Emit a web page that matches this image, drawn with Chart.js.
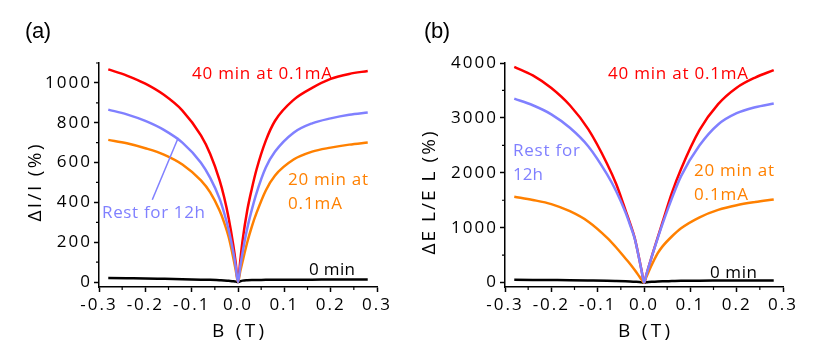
<!DOCTYPE html>
<html>
<head>
<meta charset="utf-8">
<script src="https://cdn.jsdelivr.net/npm/chart.js@4/dist/chart.umd.min.js"></script>
<style>
  body { margin: 0; background: #fff; width: 831px; height: 344px; position: relative; overflow: hidden; }
  .panel { position: absolute; top: 0; height: 344px; }
</style>
</head>
<body>
<div class="panel" style="left:0;width:415px"><canvas id="chartA" width="415" height="344"></canvas></div>
<div class="panel" style="left:415px;width:416px"><canvas id="chartB" width="416" height="344"></canvas></div>
<script>
// magnetic field B (T), shared by every curve
const bField = [-0.28, -0.24, -0.20, -0.16, -0.12, -0.08, -0.06, -0.04, -0.03, -0.02, -0.01, -0.005, 0,
                0.005, 0.01, 0.02, 0.03, 0.04, 0.06, 0.08, 0.12, 0.16, 0.20, 0.24, 0.28];

// (a) ΔI/I (%)
const curA40min = [1068, 1037, 996, 940, 861, 736, 643, 513, 427, 319, 182, 98, 0,
                   110, 210, 360, 470, 565, 710, 810, 915, 975, 1020, 1045, 1060];
const curARest  = [866, 842, 809, 764, 700, 599, 523, 420, 348, 260, 149, 80, 0,
                   80, 150, 270, 365, 447, 575, 655, 750, 797, 822, 840, 851];
const curA20min = [714, 697, 672, 640, 590, 510, 450, 360, 300, 225, 120, 60, 0,
                   55, 105, 200, 280, 347, 460, 535, 615, 655, 675, 690, 701];
const curA0min  = [20, 19, 18, 16, 14, 12, 11, 9, 8, 6, 4, 2, 0,
                   4, 7, 9, 10, 10, 11, 11, 12, 12, 13, 13, 13];

// (b) ΔEL/EL (%)
const elB40min = [3930, 3775, 3545, 3230, 2790, 2170, 1795, 1320, 1080, 810, 420, 210, 0,
                  140, 285, 565, 835, 1100, 1630, 2070, 2780, 3250, 3550, 3735, 3870];
const elBRest  = [3350, 3230, 3065, 2820, 2480, 1975, 1665, 1280, 1050, 800, 415, 208, 0,
                  140, 285, 560, 820, 1070, 1530, 1940, 2500, 2880, 3085, 3195, 3262];
const elB20min = [1563, 1505, 1430, 1300, 1110, 820, 640, 440, 340, 230, 110, 50, 0,
                  100, 200, 380, 540, 660, 840, 990, 1190, 1325, 1410, 1468, 1515];
const elB0min  = [50, 48, 46, 44, 40, 35, 30, 24, 20, 15, 10, 5, 0,
                  5, 10, 15, 20, 24, 28, 32, 36, 38, 40, 40, 40];

// ticks
const xTicks  = [-0.3, -0.2, -0.1, 0, 0.1, 0.2, 0.3];
const xMinor  = [-0.25, -0.15, -0.05, 0.05, 0.15, 0.25];
const yTicksA = [0, 200, 400, 600, 800, 1000];
const yMinorA = [100, 300, 500, 700, 900, 1100];
const yTicksB = [0, 1000, 2000, 3000, 4000];
const yMinorB = [500, 1500, 2500, 3500];

const RED = '#ff0000', BLUE = '#8080ff', ORANGE = '#ff8000', BLACK = '#000000';

Chart.defaults.font.family = '"Open Sans", sans-serif';
Chart.defaults.color = '#000';

// draw text stretched/squeezed to a given width with letterSpacing
function fitText(ctx, text, x, y, w, size, color, family, align) {
    ctx.save();
    ctx.font = size + 'px ' + (family || '"Open Sans"');
    ctx.fillStyle = color;
    ctx.textBaseline = 'middle';
    ctx.textAlign = 'left';
    ctx.letterSpacing = '0px';
    const plain = ctx.measureText(text).width;
    const ls = Math.max(-1, Math.min(6, (w - plain) / Math.max(1, text.length - 1)));
    ctx.letterSpacing = ls + 'px';
    const x0 = align === 'center' ? x - w / 2 : x;
    ctx.fillText(text, x0, y);
    ctx.restore();
}

const spacing = {
    id: 'spacing',
    beforeDraw(chart) { chart.ctx.letterSpacing = '2px'; }
};

// minor ticks + labels + titles
const extras = {
    id: 'extras',
    afterDraw(chart, args, opts) {
        const ctx = chart.ctx;
        const xs = chart.scales.x, ys = chart.scales.y;
        ctx.save();
        ctx.strokeStyle = '#000';
        ctx.lineWidth = 1.2;
        ctx.beginPath();
        xMinor.forEach(v => {
            const px = xs.getPixelForValue(v);
            ctx.moveTo(px, xs.top); ctx.lineTo(px, xs.top + 3);
        });
        opts.yMinor.forEach(v => {
            const py = ys.getPixelForValue(v);
            ctx.moveTo(ys.right, py); ctx.lineTo(ys.right - 3, py);
        });
        ctx.stroke();

        if (opts.pointer) {
            const p = opts.pointer;
            ctx.strokeStyle = BLUE;
            ctx.lineWidth = 1.5;
            ctx.beginPath();
            ctx.moveTo(xs.getPixelForValue(p[0]), ys.getPixelForValue(p[1]));
            ctx.lineTo(xs.getPixelForValue(p[2]), ys.getPixelForValue(p[3]));
            ctx.stroke();
        }
        ctx.restore();

        opts.notes.forEach(n => fitText(ctx, n.text, n.x, n.y, n.w, 17, n.color));

        fitText(ctx, opts.tag, opts.tagX, 32, 26, 22, '#000', '"Liberation Sans", Arial');
        fitText(ctx, 'B (T)', (xs.left + xs.right) / 2, 332, 52, 19, '#000', '"Open Sans"', 'center');

        ctx.save();
        ctx.translate(opts.yTitleX, opts.yTitleY);
        ctx.rotate(-Math.PI / 2);
        fitText(ctx, opts.yTitle, 0, 0, opts.yTitleW, 19, '#000', '"Open Sans"', 'center');
        ctx.restore();
    }
};

function makePanel(id, curves, area, yMin, yMax, yTicks, extraOpts) {
    const canvas = document.getElementById(id);
    const W = canvas.width;
    const datasets = curves.map(c => ({
        data: bField.map((b, i) => ({ x: b, y: c.values[i] })),
        borderColor: c.color,
        borderWidth: 2.5,
        pointRadius: 0,
        fill: false,
        cubicInterpolationMode: 'monotone'
    }));
    return new Chart(canvas, {
        type: 'line',
        data: { datasets },
        options: {
            responsive: false,
            animation: false,
            layout: { padding: { left: 0, top: area.top, right: W - area.right, bottom: 0 } },
            plugins: {
                legend: { display: false },
                tooltip: { enabled: false },
                extras: extraOpts
            },
            scales: {
                x: {
                    type: 'linear',
                    min: -0.3,
                    max: 0.3,
                    afterFit(s) { s.height = 344 - area.bottom; },
                    afterBuildTicks(s) { s.ticks = xTicks.map(v => ({ value: v })); },
                    ticks: {
                        font: { size: 17 },
                        padding: 3,
                        maxRotation: 0,
                        callback: v => v.toFixed(1)
                    },
                    grid: { drawOnChartArea: false, tickLength: 5, tickWidth: 1.5, tickColor: '#000' },
                    border: { color: '#000', width: 1.5 }
                },
                y: {
                    min: yMin,
                    max: yMax,
                    afterFit(s) { s.width = area.left; },
                    afterBuildTicks(s) { s.ticks = yTicks.map(v => ({ value: v })); },
                    ticks: { font: { size: 17 }, padding: 2, callback: v => String(v) },
                    grid: { drawOnChartArea: false, tickLength: 5, tickWidth: 1.5, tickColor: '#000' },
                    border: { color: '#000', width: 1.5 }
                }
            }
        },
        plugins: [spacing, extras]
    });
}

makePanel('chartA', [
    { values: curARest,  color: BLUE },
    { values: curA20min, color: ORANGE },
    { values: curA40min, color: RED },
    { values: curA0min,  color: BLACK }
], { left: 99, right: 377, top: 63, bottom: 287 }, -25, 1100, yTicksA, {
    yMinor: yMinorA,
    tag: '(a)', tagX: 25,
    yTitle: 'ΔI/I (%)', yTitleX: 36, yTitleY: 183, yTitleW: 77,
    pointer: [-0.129, 725, -0.185, 413],
    notes: [
        { text: '40 min at 0.1mA', x: 192, y: 74, w: 140, color: RED },
        { text: '20 min at', x: 288, y: 180, w: 80, color: ORANGE },
        { text: '0.1mA', x: 288, y: 204, w: 54, color: ORANGE },
        { text: 'Rest for 12h', x: 102, y: 213, w: 103, color: BLUE },
        { text: '0 min', x: 309, y: 270, w: 46, color: BLACK }
    ]
});

makePanel('chartB', [
    { values: elBRest,  color: BLUE },
    { values: elB20min, color: ORANGE },
    { values: elB40min, color: RED },
    { values: elB0min,  color: BLACK }
], { left: 90, right: 368, top: 63, bottom: 287 }, -80, 4000, yTicksB, {
    yMinor: yMinorB,
    tag: '(b)', tagX: 9,
    yTitle: 'ΔE L/E L (%)', yTitleX: 15, yTitleY: 193, yTitleW: 123,
    notes: [
        { text: '40 min at 0.1mA', x: 193, y: 74, w: 140, color: RED },
        { text: 'Rest for', x: 98, y: 151, w: 67, color: BLUE },
        { text: '12h', x: 98, y: 175, w: 30, color: BLUE },
        { text: '20 min at', x: 279, y: 171, w: 80, color: ORANGE },
        { text: '0.1mA', x: 279, y: 195, w: 54, color: ORANGE },
        { text: '0 min', x: 295, y: 273, w: 47, color: BLACK }
    ]
});
</script>
</body>
</html>
